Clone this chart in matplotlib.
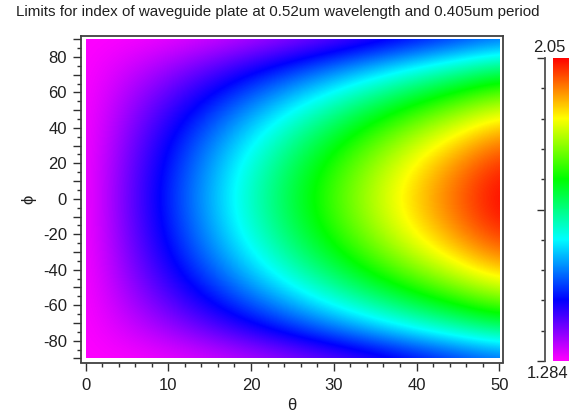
import numpy as np
import matplotlib
matplotlib.use("Agg")
import matplotlib.pyplot as plt
from matplotlib.colors import LinearSegmentedColormap
from matplotlib.patches import Rectangle

plt.rcParams['font.family'] = ['Liberation Sans', 'DejaVu Sans']

title = "Limits for index of waveguide plate at 0.52um wavelength and 0.405um period"
theta = [0, 5, 10, 15, 20, 25, 30, 35, 40, 45, 50]
phi = [-90, -75, -60, -45, -30, -15, 0, 15, 30, 45, 60, 75, 90]

# index read along theta, one list per phi (the picture is symmetric about phi=0)
n_phi0 = [1.284, 1.371, 1.458, 1.543, 1.626, 1.707, 1.784, 1.858, 1.927, 1.991, 2.050]
n_phi15 = [1.284, 1.368, 1.452, 1.535, 1.617, 1.696, 1.772, 1.844, 1.912, 1.976, 2.034]
n_phi30 = [1.284, 1.360, 1.437, 1.514, 1.589, 1.663, 1.735, 1.804, 1.869, 1.929, 1.985]
n_phi45 = [1.284, 1.347, 1.412, 1.478, 1.545, 1.611, 1.675, 1.738, 1.797, 1.853, 1.904]
n_phi60 = [1.284, 1.330, 1.379, 1.431, 1.485, 1.539, 1.594, 1.647, 1.699, 1.748, 1.794]
n_phi75 = [1.284, 1.309, 1.339, 1.374, 1.412, 1.452, 1.494, 1.536, 1.578, 1.618, 1.657]
n_phi90 = [1.284, 1.287, 1.296, 1.310, 1.329, 1.352, 1.378, 1.406, 1.436, 1.466, 1.495]

n_min = 1.284
n_max = 2.05

W, H = 569, 415


def px_axes(left, top, right, bottom):
    return fig.add_axes([left / W, 1 - bottom / H, (right - left) / W, (bottom - top) / H])


rows = [n_phi90, n_phi75, n_phi60, n_phi45, n_phi30, n_phi15, n_phi0,
        n_phi15, n_phi30, n_phi45, n_phi60, n_phi75, n_phi90]
grid = np.array(rows)

cmap = LinearSegmentedColormap.from_list(
    "rainbow_mag", ["#ff00ff", "#0000ff", "#00ffff", "#00ff00", "#ffff00", "#ff0000"], N=512)

fig = plt.figure(figsize=(W / 100, H / 100), dpi=100)
ax = px_axes(81, 36, 503, 362.5)

# let imshow do the smoothing, cell centres sit on the grid values
im = ax.imshow(grid, origin="lower", aspect="auto", cmap=cmap, vmin=n_min, vmax=n_max,
               extent=[-2.5, 52.5, -97.5, 97.5], interpolation="bicubic")
im.set_clip_path(Rectangle((0, -90), 50, 180, transform=ax.transData))
ax.set_xlim(-0.55, 50.45)
ax.set_ylim(-92.3, 91.8)

ax.set_xticks(range(0, 51, 10))
ax.set_xticks(range(0, 51, 2), minor=True)
# long ticks on the tens, labels only on every other one
y_major = list(range(-90, 91, 10))
ax.set_yticks(y_major)
ax.set_yticklabels([str(y) if y % 20 == 0 else "" for y in y_major])
ax.set_yticks(range(-85, 90, 10), minor=True)
for spine in ax.spines.values():
    spine.set_color("#404040")
    spine.set_linewidth(1.3)
ax.tick_params(axis="both", which="major", length=6, width=1, color="#303030",
               labelsize=12, labelcolor="#202020", pad=4)
ax.tick_params(axis="x", which="major", pad=5.5)
ax.tick_params(axis="both", which="minor", length=3.2, width=1, color="#303030")
ax.set_xlabel("θ", fontsize=12, color="#202020", labelpad=3.5)
ax.set_ylabel("ϕ", fontsize=12, color="#202020", labelpad=5)
fig.text(277.5 / W, 1 - 12 / H, title, ha="center", va="center", fontsize=10.9, color="#202020")

# colour scale, spills over the right edge like the original
cax = px_axes(553, 58, 575, 361)
scale = np.linspace(n_min, n_max, 256).reshape(-1, 1)
cax.imshow(scale, origin="lower", aspect="auto", cmap=cmap, vmin=n_min, vmax=n_max,
           extent=[0, 1, n_min, n_max])
cax.set_xticks([])
for name in ["top", "right", "bottom"]:
    cax.spines[name].set_visible(False)
cax.spines["left"].set_position(("outward", 6))
cax.spines["left"].set_color("#505050")
cax.spines["left"].set_linewidth(1.3)
ticks = np.linspace(n_min, n_max, 11)
cax.set_yticks(ticks[[0, 5, 10]])
cax.set_yticks(ticks, minor=True)
cax.set_yticklabels([])
cax.tick_params(axis="y", which="major", length=6, width=1, color="#303030")
cax.tick_params(axis="y", which="minor", length=3.2, width=1, color="#303030")
fig.text(549 / W, 1 - 47 / H, "2.05", ha="center", va="center", fontsize=12, color="#202020")
fig.text(548 / W, 1 - 373 / H, "1.284", ha="center", va="center", fontsize=12, color="#202020")

fig.savefig("out.png", dpi=100)
